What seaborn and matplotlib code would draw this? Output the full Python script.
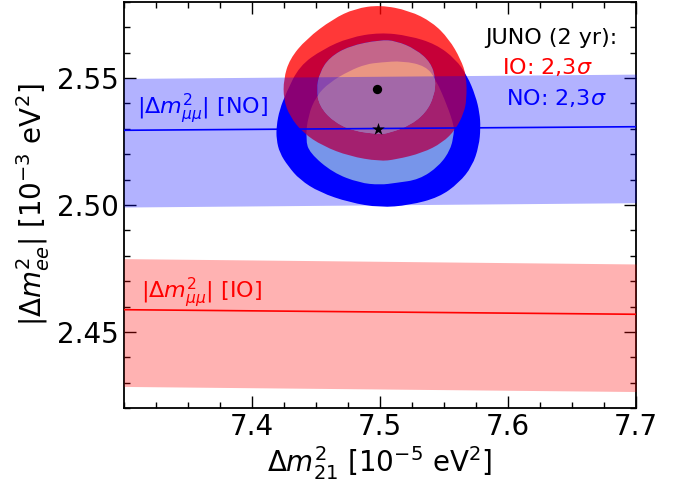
import numpy as np
import matplotlib
matplotlib.use("Agg")
import matplotlib.pyplot as plt
from matplotlib.path import Path
from matplotlib.patches import PathPatch
from matplotlib.ticker import MultipleLocator, FixedLocator, FormatStrFormatter
import seaborn as sns

# Δm²_μμ bands (edges at the two ends of the Δm²_21 range), in 1e-3 eV²
x_ends = [7.3, 7.7]
no_center = [2.5294, 2.5308]
no_lower = [2.4992, 2.5009]
no_upper = [2.5498, 2.5515]
io_center = [2.4588, 2.4570]
io_lower = [2.4286, 2.4266]
io_upper = [2.4789, 2.4768]

# JUNO best-fit points
io_best = (7.498, 2.5458)
no_best = (7.4985, 2.5300)

# JUNO allowed regions (boundary points, Δm²_21 vs |Δm²_ee|)
io_3s_x = [7.5002, 7.5228, 7.5410, 7.5539, 7.5630, 7.5675, 7.5677, 7.5656, 7.5591,
           7.5488, 7.5332, 7.5125, 7.4995, 7.4761, 7.4554, 7.4398, 7.4294, 7.4247,
           7.4247, 7.4294, 7.4424, 7.4632, 7.4805]
io_3s_y = [2.5787, 2.5765, 2.5719, 2.5653, 2.5574, 2.5508, 2.5416, 2.5363, 2.5297,
           2.5245, 2.5205, 2.5179, 2.5172, 2.5192, 2.5232, 2.5284, 2.5350, 2.5416,
           2.5495, 2.5574, 2.5653, 2.5732, 2.5773]
io_2s_x = [7.5002, 7.5125, 7.5280, 7.5397, 7.5436, 7.5423, 7.5358, 7.5228, 7.5072,
           7.5002, 7.4788, 7.4632, 7.4528, 7.4502, 7.4528, 7.4605, 7.4761]
io_2s_y = [2.5650, 2.5646, 2.5613, 2.5561, 2.5495, 2.5429, 2.5363, 2.5311, 2.5284,
           2.5278, 2.5291, 2.5330, 2.5389, 2.5455, 2.5521, 2.5581, 2.5626]
no_3s_x = [7.5000, 7.5228, 7.5436, 7.5591, 7.5682, 7.5747, 7.5778, 7.5786, 7.5773,
           7.5721, 7.5617, 7.5461, 7.5228, 7.5000, 7.4761, 7.4528, 7.4372, 7.4282,
           7.4216, 7.4191, 7.4191, 7.4216, 7.4268, 7.4370, 7.4554, 7.4761]
no_3s_y = [2.5679, 2.5666, 2.5633, 2.5574, 2.5508, 2.5429, 2.5363, 2.5304, 2.5232,
           2.5153, 2.5087, 2.5030, 2.4999, 2.4990, 2.5010, 2.5050, 2.5100, 2.5153,
           2.5205, 2.5258, 2.5311, 2.5376, 2.5442, 2.5547, 2.5613, 2.5659]
no_2s_x = [7.5002, 7.5177, 7.5358, 7.5436, 7.5527, 7.5578, 7.5578, 7.5553, 7.5461,
           7.5306, 7.5125, 7.5002, 7.4839, 7.4632, 7.4450, 7.4419, 7.4437, 7.4502,
           7.4605, 7.4761, 7.4891]
no_2s_y = [2.5561, 2.5567, 2.5547, 2.5495, 2.5389, 2.5311, 2.5284, 2.5219, 2.5153,
           2.5100, 2.5087, 2.5079, 2.5087, 2.5127, 2.5205, 2.5258, 2.5350, 2.5429,
           2.5482, 2.5528, 2.5554]


def closed_curve(xs, ys, reverse=False):
    """Smooth closed quadratic-Bezier path using the points as control polygon."""
    pts = np.column_stack([xs, ys]).astype(float)
    if reverse:
        pts = pts[::-1]
    mids = (pts + np.roll(pts, -1, axis=0)) / 2.0
    verts = [mids[-1]]
    codes = [Path.MOVETO]
    for p, m in zip(pts, mids):
        verts += [p, m]
        codes += [Path.CURVE3, Path.CURVE3]
    verts.append(mids[-1])
    codes.append(Path.CLOSEPOLY)
    return verts, codes


def region(xs, ys):
    v, c = closed_curve(xs, ys)
    return Path(v, c)


def ring(xo, yo, xi, yi):
    vo, co = closed_curve(xo, yo)
    vi, ci = closed_curve(xi, yi, reverse=True)
    return Path(vo + vi, co + ci)


sns.set_style("ticks")
plt.rcParams["font.family"] = ["DejaVu Sans"]
plt.rcParams["mathtext.fontset"] = "dejavusans"
plt.rcParams["text.color"] = "black"
plt.rcParams["axes.labelcolor"] = "black"
plt.rcParams["xtick.color"] = "black"
plt.rcParams["ytick.color"] = "black"
plt.rcParams["xtick.labelcolor"] = "black"
plt.rcParams["ytick.labelcolor"] = "black"

fig = plt.figure(figsize=(6.81, 4.82), dpi=100)
ax = fig.add_axes([0.1821, 0.1529, 0.7518, 0.8436])

# NO regions
ax.add_patch(PathPatch(region(no_3s_x, no_3s_y), facecolor="#0000ff", edgecolor="none", zorder=1))
ax.add_patch(PathPatch(region(no_2s_x, no_2s_y), facecolor="#abd6e2", edgecolor="none", zorder=2))
# IO regions
ax.add_patch(PathPatch(ring(io_3s_x, io_3s_y, io_2s_x, io_2s_y), facecolor="#ff0000",
                       alpha=0.78, edgecolor="none", zorder=3))
ax.add_patch(PathPatch(region(io_2s_x, io_2s_y), facecolor="#fd8469",
                       alpha=0.78, edgecolor="none", zorder=4))

# Δm²_μμ bands
ax.fill_between(x_ends, no_lower, no_upper, color="blue", alpha=0.3, lw=0, zorder=5)
ax.fill_between(x_ends, io_lower, io_upper, color="red", alpha=0.3, lw=0, zorder=5)
sns.lineplot(x=x_ends, y=no_center, color="blue", lw=1.2, ax=ax, zorder=6)
sns.lineplot(x=x_ends, y=io_center, color="red", lw=1.2, ax=ax, zorder=6)

# best-fit markers
sns.scatterplot(x=[io_best[0]], y=[io_best[1]], marker="o", s=45, color="black",
                edgecolor="black", linewidth=0, ax=ax, zorder=7)
sns.scatterplot(x=[no_best[0]], y=[no_best[1]], marker="*", s=90, color="black",
                edgecolor="black", linewidth=0, ax=ax, zorder=7)

ax.text(7.3099, 2.5359, r"$|\Delta m^2_{\mu\mu}|$ [NO]", color="blue", fontsize=16,
        ha="left", va="baseline", zorder=8)
ax.text(7.3130, 2.4633, r"$|\Delta m^2_{\mu\mu}|$ [IO]", color="red", fontsize=16,
        ha="left", va="baseline", zorder=8)
ax.text(7.6342, 2.5633, "JUNO (2 yr):", color="black", fontsize=16,
        ha="center", va="baseline", zorder=8)
ax.text(7.6311, 2.5515, r"IO: 2,3$\sigma$", color="red", fontsize=16,
        ha="center", va="baseline", zorder=8)
ax.text(7.6377, 2.5392, r"NO: 2,3$\sigma$", color="blue", fontsize=16,
        ha="center", va="baseline", zorder=8)

ax.set_xlim(7.3, 7.7)
ax.set_ylim(2.42, 2.58)
ax.xaxis.set_major_locator(FixedLocator([7.4, 7.5, 7.6, 7.7]))
ax.xaxis.set_minor_locator(MultipleLocator(0.025))
ax.yaxis.set_major_locator(FixedLocator([2.45, 2.50, 2.55]))
ax.yaxis.set_minor_locator(MultipleLocator(0.01))
ax.xaxis.set_major_formatter(FormatStrFormatter("%.1f"))
ax.yaxis.set_major_formatter(FormatStrFormatter("%.2f"))
ax.tick_params(which="both", direction="in", top=True, right=True, color="black",
               labelcolor="black", labelsize=20, width=1.0)
ax.tick_params(which="major", length=8.5)
ax.tick_params(which="minor", length=4)
for s in ax.spines.values():
    s.set_linewidth(1.3)
    s.set_color("black")

ax.set_xlabel(r"$\Delta m^2_{21}$ [10$^{-5}$ eV$^2$]", fontsize=20, labelpad=2, color="black")
ax.set_ylabel(r"$|\Delta m^2_{ee}|$ [10$^{-3}$ eV$^2$]", fontsize=20, labelpad=4, color="black")

fig.savefig("out.png", dpi=100)
